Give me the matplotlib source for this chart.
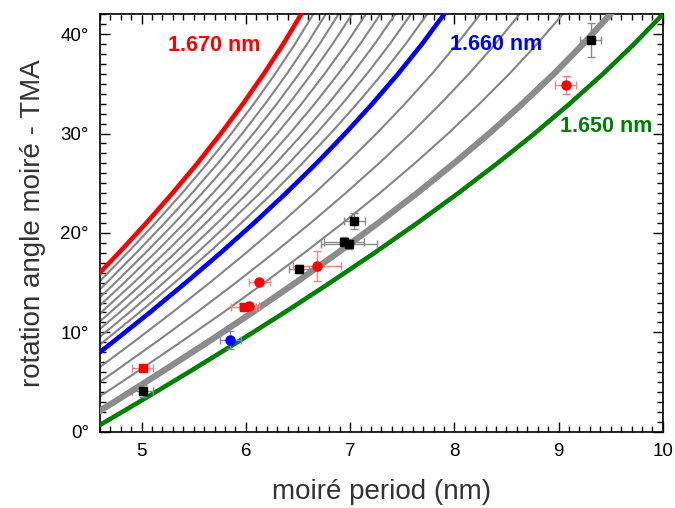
import matplotlib.pyplot as plt
from matplotlib.ticker import MultipleLocator, FuncFormatter

plt.rcParams['font.family'] = ['Liberation Sans', 'DejaVu Sans']

angles = [0, 3, 6, 9, 12, 15, 18, 21, 24, 27, 30, 33, 36, 39, 42]

# TMA lattice constants (nm) of the curves
lattice = [1.650, 1.652, 1.654, 1.656, 1.658, 1.660,
           1.661, 1.662, 1.663, 1.664, 1.665, 1.666, 1.667, 1.668, 1.669, 1.670]

# moiré period (nm) of each curve at the angle levels above
periods = [
    [4.490, 4.976, 5.452, 5.917, 6.370, 6.809, 7.234, 7.644, 8.037, 8.412, 8.769, 9.106, 9.426, 9.724, 10.000],
    [4.274, 4.737, 5.189, 5.632, 6.062, 6.478, 6.881, 7.269, 7.642, 7.996, 8.334, 8.652, 8.954, 9.235, 9.496],
    [4.077, 4.519, 4.951, 5.372, 5.782, 6.178, 6.561, 6.930, 7.283, 7.620, 7.940, 8.241, 8.527, 8.793, 9.040],
    [3.898, 4.321, 4.734, 5.136, 5.527, 5.905, 6.269, 6.621, 6.957, 7.277, 7.581, 7.868, 8.139, 8.392, 8.625],
    [3.734, 4.139, 4.534, 4.919, 5.293, 5.654, 6.003, 6.338, 6.659, 6.964, 7.254, 7.527, 7.785, 8.025, 8.248],
    [3.583, 3.972, 4.351, 4.721, 5.079, 5.424, 5.758, 6.078, 6.385, 6.677, 6.953, 7.214, 7.460, 7.690, 7.901],
    [3.512, 3.894, 4.265, 4.627, 4.978, 5.316, 5.642, 5.956, 6.256, 6.542, 6.812, 7.067, 7.308, 7.532, 7.739],
    [3.444, 3.818, 4.182, 4.537, 4.881, 5.212, 5.532, 5.839, 6.133, 6.412, 6.677, 6.926, 7.161, 7.381, 7.583],
    [3.378, 3.745, 4.103, 4.451, 4.787, 5.112, 5.425, 5.726, 6.014, 6.287, 6.547, 6.791, 7.021, 7.235, 7.433],
    [3.315, 3.676, 4.026, 4.367, 4.698, 5.016, 5.323, 5.618, 5.900, 6.168, 6.421, 6.661, 6.885, 7.096, 7.290],
    [3.255, 3.608, 3.952, 4.287, 4.611, 4.924, 5.224, 5.514, 5.790, 6.052, 6.301, 6.535, 6.755, 6.961, 7.151],
    [3.196, 3.543, 3.881, 4.210, 4.528, 4.834, 5.129, 5.413, 5.684, 5.941, 6.185, 6.414, 6.630, 6.832, 7.018],
    [3.139, 3.481, 3.813, 4.135, 4.447, 4.748, 5.038, 5.316, 5.581, 5.834, 6.073, 6.298, 6.510, 6.707, 6.889],
    [3.085, 3.420, 3.746, 4.063, 4.370, 4.665, 4.949, 5.222, 5.483, 5.731, 5.965, 6.186, 6.393, 6.587, 6.766],
    [3.032, 3.362, 3.682, 3.994, 4.295, 4.585, 4.864, 5.132, 5.388, 5.631, 5.861, 6.078, 6.281, 6.471, 6.646],
    [2.981, 3.305, 3.620, 3.926, 4.223, 4.508, 4.782, 5.045, 5.296, 5.535, 5.760, 5.973, 6.172, 6.359, 6.531],
]

# measured moiré periods / angles
black_x = [5.01, 6.51, 6.94, 6.99, 7.04, 9.31]
black_y = [4.1, 16.4, 19.1, 18.9, 21.2, 39.4]
black_xerr = [0.10, 0.10, 0.19, 0.27, 0.10, 0.10]
black_yerr = [0.6, 0.4, 0.5, 0.5, 0.8, 1.7]

red_sq_x = [5.01, 5.98]
red_sq_y = [6.45, 12.6]
red_sq_xerr = [0.10, 0.12]
red_sq_yerr = [0.3, 0.4]

red_x = [6.03, 6.13, 6.68, 9.07]
red_y = [12.7, 15.1, 16.7, 34.9]
red_xerr = [0.10, 0.10, 0.23, 0.10]
red_yerr = [0.3, 0.3, 1.5, 0.9]

blue_x = [5.85]
blue_y = [9.2]
blue_xerr = [0.10]
blue_yerr = [0.9]

fig = plt.figure(figsize=(6.75, 5.08), dpi=100)
ax = fig.add_axes([0.148, 0.150, 0.834, 0.822])

for a, L in zip(lattice, periods):
    if a == 1.650:
        ax.plot(L, angles, color='#008000', lw=3.3, zorder=4)
    elif a == 1.660:
        ax.plot(L, angles, color='#0000ff', lw=3.3, zorder=4)
    elif a == 1.670:
        ax.plot(L, angles, color='#ff0000', lw=3.3, zorder=4)
    elif a == 1.652:
        ax.plot(L, angles, color='#8c8c8c', lw=4.5, zorder=3)
    else:
        ax.plot(L, angles, color='#858585', lw=1.5, zorder=2)

eb = dict(linestyle='none', capsize=3, elinewidth=1, capthick=1, zorder=6)
ax.errorbar(black_x, black_y, xerr=black_xerr, yerr=black_yerr, marker='s', ms=6,
            color='black', ecolor='#8a8a8a', **eb)
ax.errorbar(red_sq_x, red_sq_y, xerr=red_sq_xerr, yerr=red_sq_yerr, marker='s', ms=6,
            color='red', ecolor='#ff8080', **eb)
ax.errorbar(red_x, red_y, xerr=red_xerr, yerr=red_yerr, marker='o', ms=6.5,
            color='red', ecolor='#ff8080', **eb)
ax.errorbar(blue_x, blue_y, xerr=blue_xerr, yerr=blue_yerr, marker='o', ms=6.5,
            color='#0000ff', ecolor='#8080ff', **eb)

ax.text(5.70, 38.9, '1.670 nm', color='#ff0000', fontsize=15.5, fontweight='bold',
        ha='center', va='center')
ax.text(8.40, 39.0, '1.660 nm', color='#0000ff', fontsize=15.5, fontweight='bold',
        ha='center', va='center')
ax.text(9.46, 30.7, '1.650 nm', color='#008000', fontsize=15.5, fontweight='bold',
        ha='center', va='center')

ax.set_xlim(4.6, 10)
ax.set_ylim(0, 42)
ax.xaxis.set_major_locator(MultipleLocator(1))
ax.xaxis.set_minor_locator(MultipleLocator(0.1))
ax.yaxis.set_major_locator(MultipleLocator(10))
ax.yaxis.set_minor_locator(MultipleLocator(1))
ax.yaxis.set_major_formatter(FuncFormatter(lambda v, p: f'{v:.0f}°'))
ax.tick_params(which='both', direction='in', top=True, right=True, width=1,
               labelsize=13.5, colors='black')
ax.tick_params(which='major', length=7, pad=8)
ax.tick_params(which='minor', length=4)
for s in ax.spines.values():
    s.set_linewidth(1.2)

ax.set_xlabel('moiré period (nm)', fontsize=20, color='#333333', labelpad=14)
ax.set_ylabel('rotation angle moiré - TMA', fontsize=20, color='#333333', labelpad=10)

fig.savefig('out.png', dpi=100)
